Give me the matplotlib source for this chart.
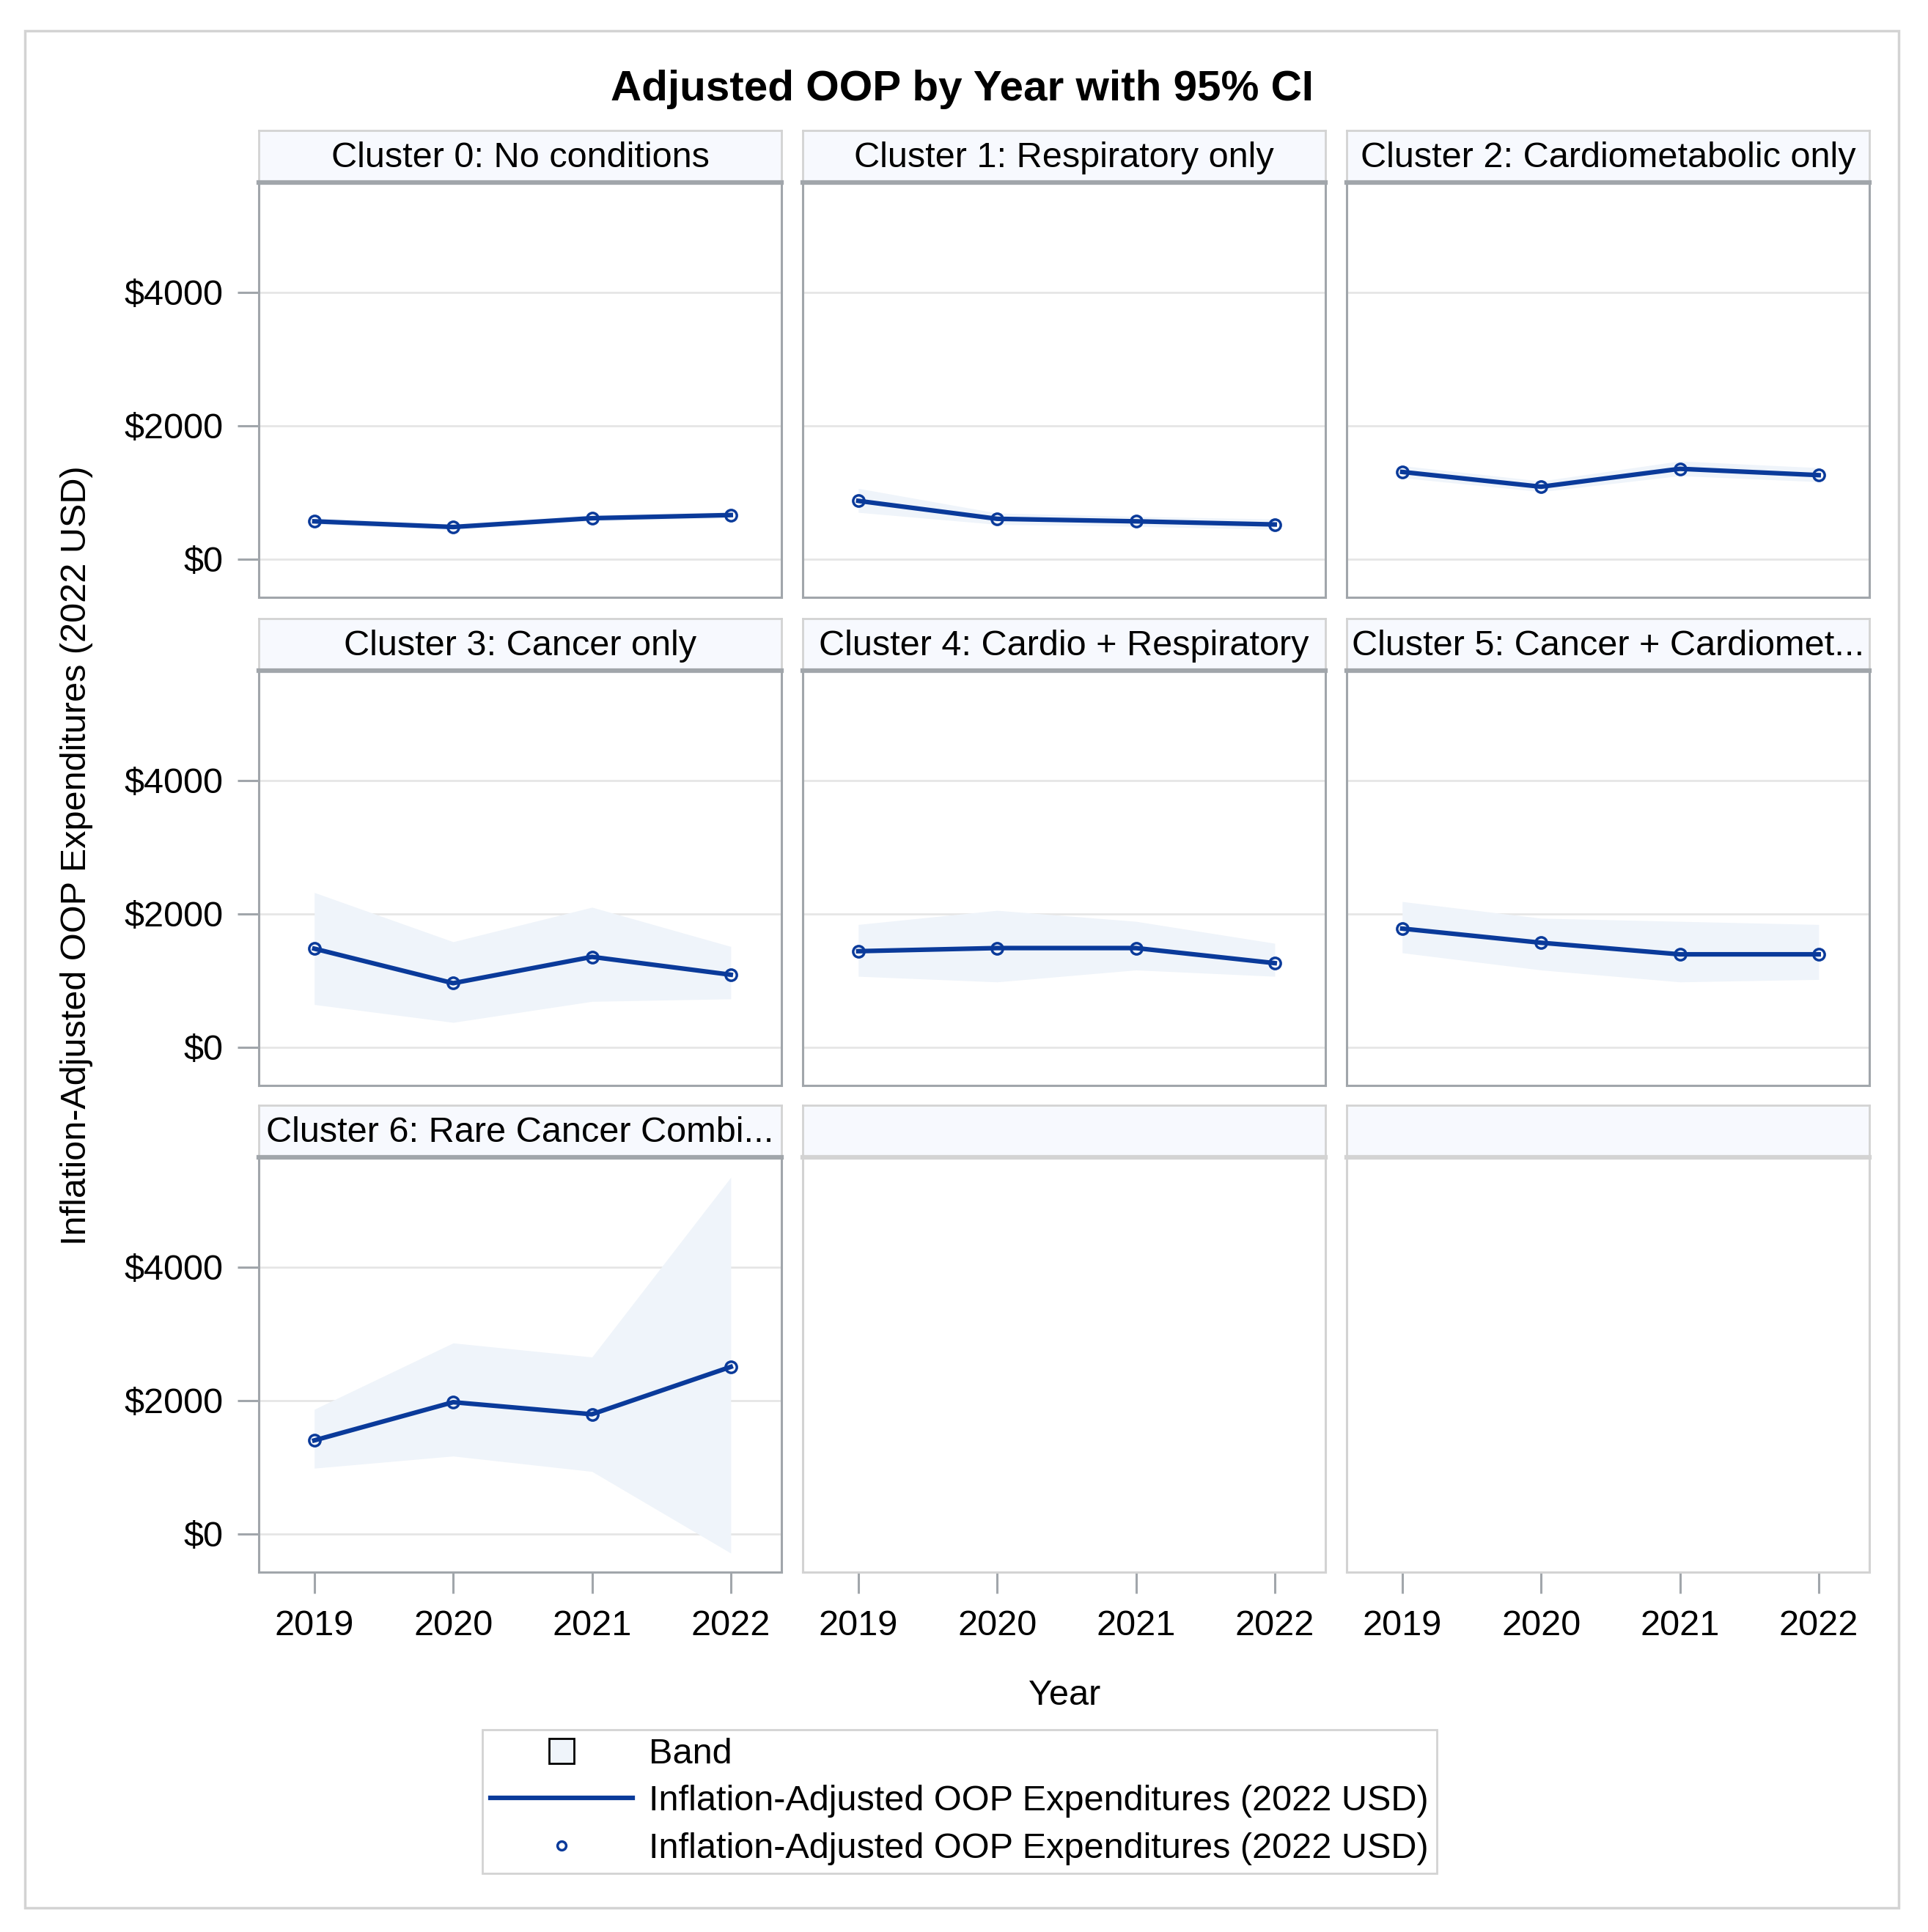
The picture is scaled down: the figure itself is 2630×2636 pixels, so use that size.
import numpy as np
import matplotlib.pyplot as plt
import matplotlib.patches as mpatches
from matplotlib.lines import Line2D
from matplotlib.legend_handler import HandlerPatch

plt.rcParams['font.family'] = ['Liberation Sans', 'DejaVu Sans']

# ------------------------------------------------------------
# Data
# ------------------------------------------------------------
years = [2019, 2020, 2021, 2022]

cluster_labels = [
    "Cluster 0: No conditions",
    "Cluster 1: Respiratory only",
    "Cluster 2: Cardiometabolic only",
    "Cluster 3: Cancer only",
    "Cluster 4: Cardio + Respiratory",
    "Cluster 5: Cancer + Cardiomet...",
    "Cluster 6: Rare Cancer Combi...",
]

oop_c0 = [566, 481, 613, 660]
oop_c1 = [873, 604, 566, 519]
oop_c2 = [1307, 1085, 1354, 1259]
oop_c3 = [1478, 960, 1355, 1087]
oop_c4 = [1440, 1487, 1487, 1261]
oop_c5 = [1779, 1567, 1393, 1393]
oop_c6 = [1402, 1975, 1794, 2505]

lower_c0 = [520, 440, 570, 615]
lower_c1 = [700, 520, 490, 445]
lower_c2 = [1220, 1010, 1250, 1160]
lower_c3 = [640, 372, 687, 725]
lower_c4 = [1063, 979, 1158, 1063]
lower_c5 = [1416, 1158, 979, 1016]
lower_c6 = [985, 1167, 936, -289]

upper_c0 = [620, 525, 660, 710]
upper_c1 = [1060, 690, 640, 600]
upper_c2 = [1400, 1170, 1470, 1370]
upper_c3 = [2320, 1581, 2099, 1510]
upper_c4 = [1840, 2052, 1887, 1558]
upper_c5 = [2184, 1934, 1887, 1840]
upper_c6 = [1868, 2863, 2652, 5348]

oop = [oop_c0, oop_c1, oop_c2, oop_c3, oop_c4, oop_c5, oop_c6]
lower = [lower_c0, lower_c1, lower_c2, lower_c3, lower_c4, lower_c5, lower_c6]
upper = [upper_c0, upper_c1, upper_c2, upper_c3, upper_c4, upper_c5, upper_c6]

ytick_vals = [0, 2000, 4000]
ytick_labels = ["$" + str(v) for v in ytick_vals]

series_label = "Inflation-Adjusted OOP Expenditures (2022 USD)"

# ------------------------------------------------------------
# Style
# ------------------------------------------------------------
LINE_COL = '#0A3A9A'
BAND_COL = '#EFF4FA'
HEAD_BG = '#F7F9FE'
FRAME_DARK = '#A1A6AB'
FRAME_LIGHT = '#D3D3D3'
GRID_COL = '#E6E6E6'
FS = 35

W, H = 2630, 2636
fig = plt.figure(figsize=(W / 100, H / 100), dpi=100)


def px_rect(x, y, w, h):
    return [x / W, 1 - (y + h) / H, w / W, h / H]


col_left = [353, 1095, 1837]
col_w = 713
head_top = [178, 844, 1508]
head_h = 71
plot_h = 566

for i in range(9):
    r, c = divmod(i, 3)
    has_data = i < len(oop)

    ax_h = fig.add_axes(px_rect(col_left[c], head_top[r], col_w, head_h))
    ax_h.set_facecolor(HEAD_BG)
    ax_h.set_xticks([])
    ax_h.set_yticks([])
    for s in ax_h.spines.values():
        s.set_color(FRAME_LIGHT)
        s.set_linewidth(2)
    if has_data:
        ax_h.text(0.5, 0.47, cluster_labels[i], ha='center', va='center',
                  fontsize=FS, transform=ax_h.transAxes)

    ax = fig.add_axes(px_rect(col_left[c], head_top[r] + head_h, col_w, plot_h))
    ax.set_xlim(2018.6, 2022.365)
    ax.set_ylim(-574, 5648)
    ax.set_xticks(years)
    ax.set_yticks(ytick_vals)
    ax.set_axisbelow(True)

    frame_col = FRAME_DARK if has_data else FRAME_LIGHT
    for s in ax.spines.values():
        s.set_color(frame_col)
        s.set_linewidth(2.2)
    ax.spines['top'].set_linewidth(4.5)

    if has_data:
        ax.yaxis.grid(True, color=GRID_COL, linewidth=2)
        ax.fill_between(years, lower[i], upper[i], color=BAND_COL, linewidth=0)
        ax.plot(years, oop[i], color=LINE_COL, linewidth=4.5)
        ax.plot(years, oop[i], linestyle='none', marker='o', markersize=11,
                markerfacecolor='none', markeredgecolor=LINE_COL, markeredgewidth=2.5)

    ax.tick_params(axis='y', left=(c == 0), labelleft=(c == 0), length=21, width=2.2,
                   color=FRAME_DARK, pad=14, labelsize=FS)
    ax.set_yticklabels(ytick_labels)
    ax.tick_params(axis='x', bottom=(r == 2), labelbottom=(r == 2), length=21, width=2.2,
                   color=FRAME_DARK, pad=16, labelsize=FS)

# titles and axis labels
fig.text(1312 / W, 1 - 122 / H, "Adjusted OOP by Year with 95% CI", ha='center', va='center',
         fontsize=42, fontweight='bold')
fig.text(105 / W, 1 - 1167 / H, series_label, rotation=90, ha='center', va='center', fontsize=FS)
fig.text(1452 / W, 1 - 2313 / H, "Year", ha='center', va='center', fontsize=FS)


# legend
def square_patch(legend, orig_handle, xdescent, ydescent, width, height, fontsize):
    s = height
    return mpatches.Rectangle((-xdescent + width / 2 - s / 2, -ydescent), s, s)


band_handle = mpatches.Patch(facecolor=BAND_COL, edgecolor='black', linewidth=2, label='Band')
line_handle = Line2D([], [], color=LINE_COL, linewidth=4.5, label=series_label)
mark_handle = Line2D([], [], color=LINE_COL, linestyle='none', marker='o', markersize=8.5,
                     markerfacecolor='none', markeredgewidth=2.5, label=series_label)

leg = fig.legend(handles=[band_handle, line_handle, mark_handle], loc='center',
                 bbox_to_anchor=(1309 / W, 1 - 2458 / H), fontsize=FS,
                 handlelength=4.0, handletextpad=0.45, labelspacing=0.4, borderpad=0.22,
                 frameon=True, fancybox=False, edgecolor=FRAME_LIGHT, framealpha=1,
                 handler_map={band_handle: HandlerPatch(patch_func=square_patch)})
leg.get_frame().set_linewidth(2)

# outer border
fig.add_artist(mpatches.Rectangle((34 / W, 1 - 2603 / H), (2590 - 34) / W, (2603 - 42) / H,
                                  transform=fig.transFigure, fill=False,
                                  edgecolor=FRAME_LIGHT, linewidth=2.5))

fig.savefig("out.png", dpi=100)
